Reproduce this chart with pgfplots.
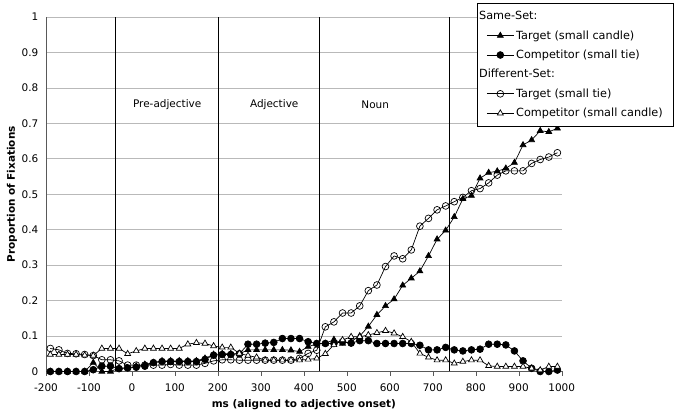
\documentclass[border=0pt]{standalone}
\usepackage{pgfplots}
\pgfplotsset{compat=1.18}
\usepackage{fontspec}
\setmainfont{DejaVu Sans}
\begin{document}
\fontsize{10.5}{12.6}\selectfont
\begin{tikzpicture}
\path[use as bounding box] (0,0) rectangle (676bp,416bp);
\begin{axis}[
  at={(46bp,44.5bp)}, anchor=south west, scale only axis,
  width=515.7bp, height=354.5bp,
  xmin=-200, xmax=1000, ymin=0, ymax=1,
  xtick={-200,-100,0,100,200,300,400,500,600,700,800,900,1000},
  xticklabels={-200,-100,0,100,200,300,400,500,600,700,800,900,1000},
  ytick={0,0.1,0.2,0.3,0.4,0.5,0.6,0.7,0.8,0.9,1},
  yticklabels={0,0.1,0.2,0.3,0.4,0.5,0.6,0.7,0.8,0.9,1},
  xtick pos=bottom, ytick pos=left,
  tick align=outside, major tick length=4bp,
  y tick style={draw=none},
  x tick style={gray!70!black},
  xticklabel style={yshift=-5bp},
  ymajorgrids, major grid style={gray!55, line width=0.7bp},
  axis line style={gray!70!black, line width=0.7bp},
  axis x line*=bottom, axis y line*=left,
  xlabel={\bfseries ms (aligned to adjective onset)},
  ylabel={\bfseries Proportion of Fixations},
  xlabel style={at={(axis description cs:0.5,-0.0945)}, anchor=center},
  ylabel style={at={(axis description cs:-0.066,0.5)}, anchor=center},
  legend cell align=left,
  legend style={at={(axis description cs:0.836,1.0395)}, anchor=north west,
    draw=black, fill=white, line width=0.7bp, inner xsep=9bp, inner ysep=6bp,
    row sep=5.3bp, font=\fontsize{11.3}{13}\selectfont},
  legend image code/.code={\draw[mark repeat=2,mark phase=2,#1] plot coordinates {(0bp,0bp)(13.5bp,0bp)(27bp,0bp)};},
  every axis plot/.append style={line width=0.7bp, black, mark size=3.4bp, mark options={solid, line width=0.6bp}},
]
\addplot[forget plot, black, line width=0.8bp, no marks] coordinates {(-38,0) (-38,1)};
\addplot[forget plot, black, line width=0.8bp, no marks] coordinates {(200,0) (200,1)};
\addplot[forget plot, black, line width=0.8bp, no marks] coordinates {(436,0) (436,1)};
\addplot[forget plot, black, line width=0.8bp, no marks] coordinates {(738,0) (738,1)};

\addlegendimage{empty legend}
\addlegendentry{\hspace{-37bp}Same-Set:}
\addplot[mark=triangle*, mark options={fill=black}] coordinates {
(-190,0) (-170,0) (-150,0) (-130,0) (-110,0) (-90,0.025) (-70,0) (-50,0) (-30,0.01) (-10,0.01)
(10,0.015) (30,0.02) (50,0.025) (70,0.03) (90,0.03) (110,0.03) (130,0.03) (150,0.03) (170,0.037) (190,0.048)
(210,0.05) (230,0.05) (250,0.05) (270,0.061) (290,0.061) (310,0.061) (330,0.061) (350,0.061) (370,0.06) (390,0.056)
(410,0.07) (430,0.078) (450,0.079) (470,0.09) (490,0.079) (510,0.085) (530,0.1) (550,0.127) (570,0.16) (590,0.185)
(610,0.204) (630,0.243) (650,0.263) (670,0.283) (690,0.326) (710,0.373) (730,0.398) (750,0.436) (770,0.487) (790,0.496)
(810,0.545) (830,0.561) (850,0.565) (870,0.573) (890,0.589) (910,0.639) (930,0.653) (950,0.679) (970,0.676) (990,0.686)};
\addlegendentry{Target (small candle)}
\addplot[mark=*, mark options={fill=black}] coordinates {
(-190,0) (-170,0) (-150,0) (-130,0) (-110,0) (-90,0.005) (-70,0.015) (-50,0.015) (-30,0.008) (-10,0.01)
(10,0.012) (30,0.015) (50,0.025) (70,0.028) (90,0.028) (110,0.028) (130,0.028) (150,0.028) (170,0.034) (190,0.046)
(210,0.048) (230,0.048) (250,0.05) (270,0.077) (290,0.077) (310,0.08) (330,0.082) (350,0.093) (370,0.093) (390,0.093)
(410,0.084) (430,0.079) (450,0.079) (470,0.079) (490,0.084) (510,0.08) (530,0.087) (550,0.087) (570,0.079) (590,0.079)
(610,0.079) (630,0.079) (650,0.079) (670,0.074) (690,0.061) (710,0.061) (730,0.068) (750,0.061) (770,0.058) (790,0.061)
(810,0.063) (830,0.077) (850,0.077) (870,0.075) (890,0.058) (910,0.03) (930,0.009) (950,0) (970,0) (990,0.004)};
\addlegendentry{Competitor (small tie)}
\addlegendimage{empty legend}
\addlegendentry{\hspace{-37bp}Different-Set:}
\addplot[mark=o, mark options={fill=white}] coordinates {
(-190,0.065) (-170,0.061) (-150,0.051) (-130,0.05) (-110,0.048) (-90,0.045) (-70,0.033) (-50,0.033) (-30,0.03) (-10,0.018)
(10,0.018) (30,0.018) (50,0.018) (70,0.018) (90,0.02) (110,0.018) (130,0.018) (150,0.018) (170,0.023) (190,0.03)
(210,0.033) (230,0.033) (250,0.032) (270,0.032) (290,0.032) (310,0.032) (330,0.032) (350,0.032) (370,0.032) (390,0.037)
(410,0.051) (430,0.06) (450,0.126) (470,0.14) (490,0.165) (510,0.165) (530,0.185) (550,0.228) (570,0.244) (590,0.296)
(610,0.326) (630,0.318) (650,0.343) (670,0.41) (690,0.432) (710,0.456) (730,0.467) (750,0.479) (770,0.491) (790,0.51)
(810,0.516) (830,0.532) (850,0.554) (870,0.566) (890,0.566) (910,0.566) (930,0.587) (950,0.598) (970,0.605) (990,0.617)};
\addlegendentry{Target (small tie)}
\addplot[mark=triangle*, mark options={fill=white}] coordinates {
(-190,0.048) (-170,0.048) (-150,0.048) (-130,0.048) (-110,0.046) (-90,0.045) (-70,0.065) (-50,0.065) (-30,0.065) (-10,0.05)
(10,0.058) (30,0.065) (50,0.065) (70,0.065) (90,0.065) (110,0.065) (130,0.077) (150,0.081) (170,0.079) (190,0.072)
(210,0.068) (230,0.068) (250,0.051) (270,0.045) (290,0.04) (310,0.032) (330,0.032) (350,0.032) (370,0.032) (390,0.032)
(410,0.034) (430,0.037) (450,0.05) (470,0.075) (490,0.089) (510,0.098) (530,0.098) (550,0.103) (570,0.109) (590,0.115)
(610,0.108) (630,0.098) (650,0.084) (670,0.051) (690,0.04) (710,0.032) (730,0.032) (750,0.023) (770,0.028) (790,0.032)
(810,0.032) (830,0.016) (850,0.014) (870,0.014) (890,0.014) (910,0.014) (930,0.009) (950,0.004) (970,0.014) (990,0.014)};
\addlegendentry{Competitor (small candle)}

\node at (axis cs:82,0.752) {Pre-adjective};
\node at (axis cs:331,0.752) {Adjective};
\node at (axis cs:566,0.752) {Noun};
\end{axis}
\end{tikzpicture}
\end{document}
